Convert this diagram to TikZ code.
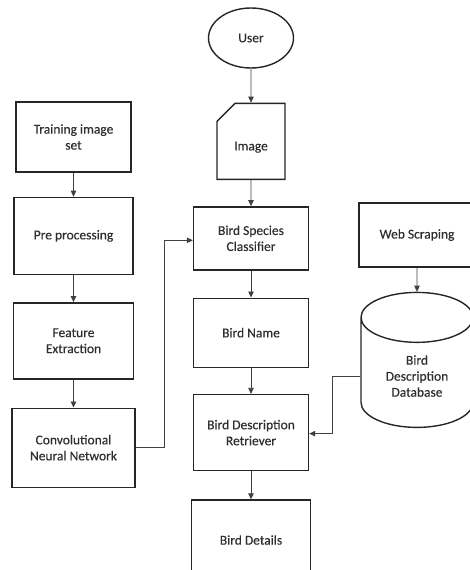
\documentclass[tikz,border=0pt]{standalone}
\usepackage{fontspec}
\setmainfont{Carlito}[UprightFeatures={FakeBold=0.3}]
\usetikzlibrary{positioning,shapes.geometric,shapes.misc,arrows.meta}

\tikzset{
  box/.style={draw=black!85, line width=1.4pt, align=center, text=black!82,
    font=\fontsize{13.5}{16}\selectfont, inner sep=2pt},
  flow/.style={draw=black!75, line width=0.8pt, -{Triangle[length=6pt,width=5.5pt]}},
}

\begin{document}
\begin{tikzpicture}[x=1pt, y=1pt, node distance=26pt]

  \useasboundingbox (0,0) rectangle (469,-570);

  % ── Centre column: user input to bird details ─────────────────
  \node[box, ellipse, minimum width=85pt, minimum height=60pt]
       at (251,-38)                          (user)  {User};
  \node[box, chamfered rectangle, chamfered rectangle corners=north west,
        chamfered rectangle xsep=14pt, chamfered rectangle ysep=16pt,
        minimum width=68pt, minimum height=76pt,
        below=34pt of user]                  (img)   {\raisebox{-9pt}[0pt][0pt]{Image}};
  \node[box, minimum width=115pt, minimum height=63pt,
        below=26pt of img]                   (clf)   {Bird Species\\Classifier};
  \node[box, minimum width=115pt, minimum height=69pt,
        below=27pt of clf]                   (name)  {Bird Name};
  \node[box, minimum width=115pt, minimum height=76pt,
        below=26pt of name]                  (ret)   {Bird Description\\Retriever};
  \node[box, minimum width=119pt, minimum height=80pt,
        below=28pt of ret]                   (det)   {Bird Details};

  % ── Left column: training pipeline ───────────────────────────
  \node[box, minimum width=115pt, minimum height=70pt]
       at (73.5,-137)                        (train) {Training image\\set};
  \node[box, minimum width=119pt, minimum height=77pt,
        below=24pt of train]                 (pre)   {Pre processing};
  \node[box, minimum width=120pt, minimum height=76pt,
        below=27pt of pre]                   (feat)  {Feature\\Extraction};
  \node[box, minimum width=123pt, minimum height=79pt,
        below=28pt of feat]                  (cnn)   {Convolutional\\Neural Network};

  % ── Right column: description source ─────────────────────────
  \node[box, minimum width=116pt, minimum height=64pt]
       at (417,-235)                         (web)   {Web Scraping};
  \node[box, cylinder, shape border rotate=90, aspect=0.75,
        minimum width=112pt, minimum height=135pt,
        below=24pt of web]                   (db)    {Bird\\Description\\Database};

  % ── Straight edges ───────────────────────────────────────────
  \draw[flow] (user) -- (img);
  \draw[flow] (img)  -- (clf);
  \draw[flow] (clf)  -- (name);
  \draw[flow] (name) -- (ret);
  \draw[flow] (ret)  -- (det);
  \draw[flow] (train) -- (pre);
  \draw[flow] (pre)  -- (feat);
  \draw[flow] (feat) -- (cnn);
  \draw[flow] (web)  -- (db.top);

  % ── Elbow edges into the centre column ───────────────────────
  \draw[flow] (cnn.east) -- ++(29,0) |- ([yshift=-2pt]clf.west);
  \draw[flow] (db.west) -- ++(-28,0) |- ([yshift=-1pt]ret.east);

\end{tikzpicture}
\end{document}
